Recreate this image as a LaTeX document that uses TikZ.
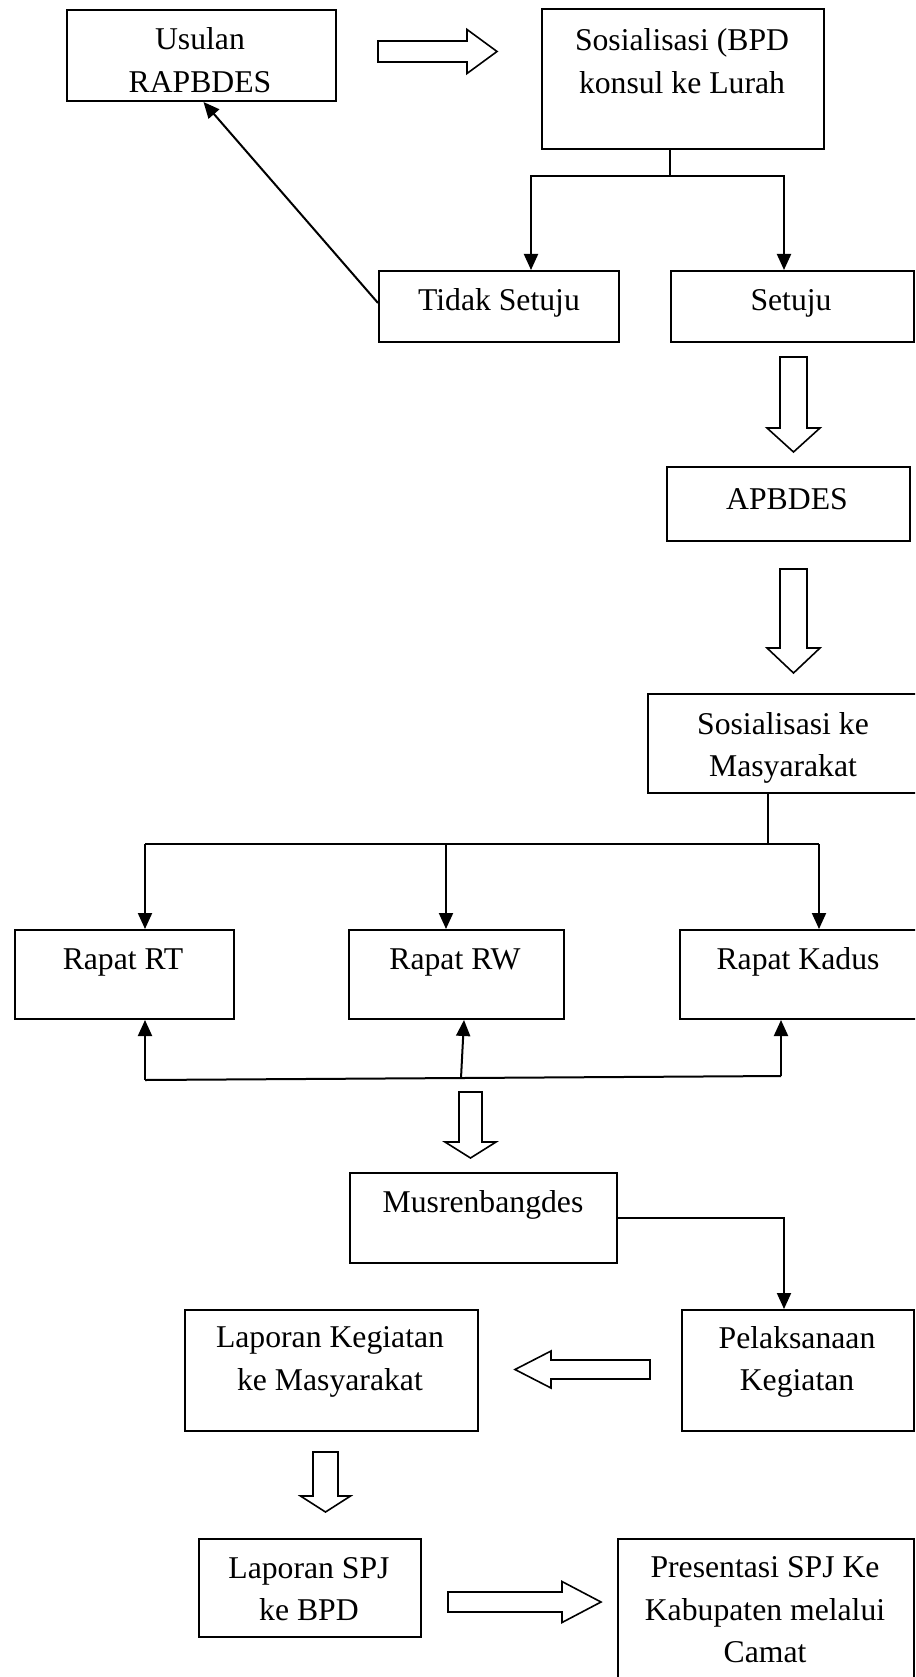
\documentclass[tikz,border=0pt]{standalone}
\usepackage{fontspec}
\setmainfont{Liberation Serif}
\usetikzlibrary{arrows.meta,calc}
\tikzset{
  box/.style={draw, line width=2pt, anchor=north west, inner sep=0pt},
  txt/.style={align=center, inner sep=0pt, font=\fontsize{31.7}{42.5}\selectfont},
  conn/.style={line width=2pt},
  arr/.style={conn, -{Triangle[length=16pt,width=14pt]}},
  hollow/.style={draw, line width=1.6pt, fill=white, line join=miter}
}
% vertical hollow arrow: #1 x-center, #2 y-start, #3 y-headbase, #4 y-tip, #5 shaft half, #6 head half
\newcommand{\hdown}[6]{\draw[hollow] (#1-#5,#2) -- (#1+#5,#2) -- (#1+#5,#3) -- (#1+#6,#3) -- (#1,#4) -- (#1-#6,#3) -- (#1-#5,#3) -- cycle;}
% horizontal hollow arrow: #1 y-center, #2 x-start, #3 x-headbase, #4 x-tip, #5 shaft half, #6 head half
\newcommand{\hhoriz}[6]{\draw[hollow] (#2,#1-#5) -- (#3,#1-#5) -- (#3,#1-#6) -- (#4,#1) -- (#3,#1+#6) -- (#3,#1+#5) -- (#2,#1+#5) -- cycle;}
\begin{document}
\begin{tikzpicture}[x=1pt,y=-1pt]
\useasboundingbox (0,0) rectangle (915,1677);
\clip (0,0) rectangle (915,1677);
\fill[white] (0,0) rectangle (915,1677);

% boxes
\node[box, minimum width=269pt, minimum height=91pt] (usulan) at (66,9) {};
\node[box, minimum width=282pt, minimum height=140pt] (sosbpd) at (541,8) {};
\node[box, minimum width=240pt, minimum height=71pt] (tidak) at (378,270) {};
\node[box, minimum width=243pt, minimum height=71pt] (setuju) at (670,270) {};
\node[box, minimum width=243pt, minimum height=74pt] (apbdes) at (666,466) {};
\node[box, minimum width=290pt, minimum height=99pt] (sosmas) at (647,693) {};
\node[box, minimum width=219pt, minimum height=89pt] (rt) at (14,929) {};
\node[box, minimum width=215pt, minimum height=89pt] (rw) at (348,929) {};
\node[box, minimum width=260pt, minimum height=89pt] (kadus) at (679,929) {};
\node[box, minimum width=267pt, minimum height=90pt] (musren) at (349,1172) {};
\node[box, minimum width=293pt, minimum height=121pt] (lapkeg) at (184,1309) {};
\node[box, minimum width=232pt, minimum height=121pt] (pelak) at (681,1309) {};
\node[box, minimum width=222pt, minimum height=98pt] (spj) at (198,1538) {};
\node[box, minimum width=296pt, minimum height=200pt] (pres) at (617,1538) {};

% texts
\node[txt] (tusulan) at (200,60) {Usulan\\RAPBDES};
\node[txt] (tsosbpd) at (682,61) {Sosialisasi (BPD\\konsul ke Lurah};
\node[txt] (ttidak) at (499,303) {Tidak Setuju};
\node[txt] (tsetuju) at (791,303) {Setuju};
\node[txt] (tapbdes) at (787,499) {APBDES};
\node[txt] (tsosmas) at (783,748) {Sosialisasi ke\\Masyarakat};
\node[txt] (trt) at (123,962) {Rapat RT};
\node[txt] (trw) at (455,962) {Rapat RW};
\node[txt] (tkadus) at (798,962) {Rapat Kadus};
\node[txt] (tmusren) at (483,1205) {Musrenbangdes};
\node[txt] (tlapkeg) at (330,1362) {Laporan Kegiatan\\ke Masyarakat};
\node[txt] (tpelak) at (797,1362) {Pelaksanaan\\Kegiatan};
\node[txt] (tspj) at (309,1589) {Laporan SPJ\\ke BPD};
\node[txt] (tpres) at (765,1610) {Presentasi SPJ Ke\\Kabupaten melalui\\Camat};

% connectors top
\coordinate (j1) at (670,176);
\coordinate (ja) at (531,176);
\coordinate (jb) at (784,176);
\draw[conn] (j1 |- sosbpd.south) -- (j1);
\draw[arr] (j1) -| (ja |- tidak.north);
\draw[arr] (j1) -| (jb |- setuju.north);
\draw[arr] (tidak.west |- 0,303) -- ($(usulan.south)+(2,0)$);

% hollow arrows
\hhoriz{51.5}{378}{467}{497}{10.5}{22}
\hdown{793.5}{357}{428}{452}{13.5}{26.5}
\hdown{793.5}{569}{648}{673}{13.5}{26.5}

% branch to rapat
\coordinate (j2) at (768,844);
\coordinate (bl) at (145,844);
\coordinate (bm) at (446,844);
\coordinate (br) at (819,844);
\draw[conn] (j2 |- sosmas.south) -- (j2);
\draw[conn] (bl) -- (br);
\draw[arr] (bl) -- (bl |- rt.north);
\draw[arr] (bm) -- (bm |- rw.north);
\draw[arr] (br) -- (br |- kadus.north);

% merge from rapat
\coordinate (u1) at (145,1080);
\coordinate (u2) at (461,1078);
\coordinate (u3) at (781,1076);
\draw[conn] (u1) -- (u3);
\draw[arr] (u1) -- (u1 |- rt.south);
\draw[arr] (u2) -- ($(rw.south)+(7.5,0)$);
\draw[arr] (u3) -- (u3 |- kadus.south);

\hdown{470.5}{1092}{1142}{1158}{11.5}{25.5}

% musren to pelaksanaan
\coordinate (pk) at (784,1218);
\draw[arr] (musren.east |- pk) -- (pk) -- (pk |- pelak.north);

\hhoriz{1369.5}{650}{551}{515}{9.5}{18.5}
\hdown{325.5}{1452}{1496}{1512}{12.5}{25}
\hhoriz{1602}{448}{562}{601}{10}{20.5}
\end{tikzpicture}
\end{document}
